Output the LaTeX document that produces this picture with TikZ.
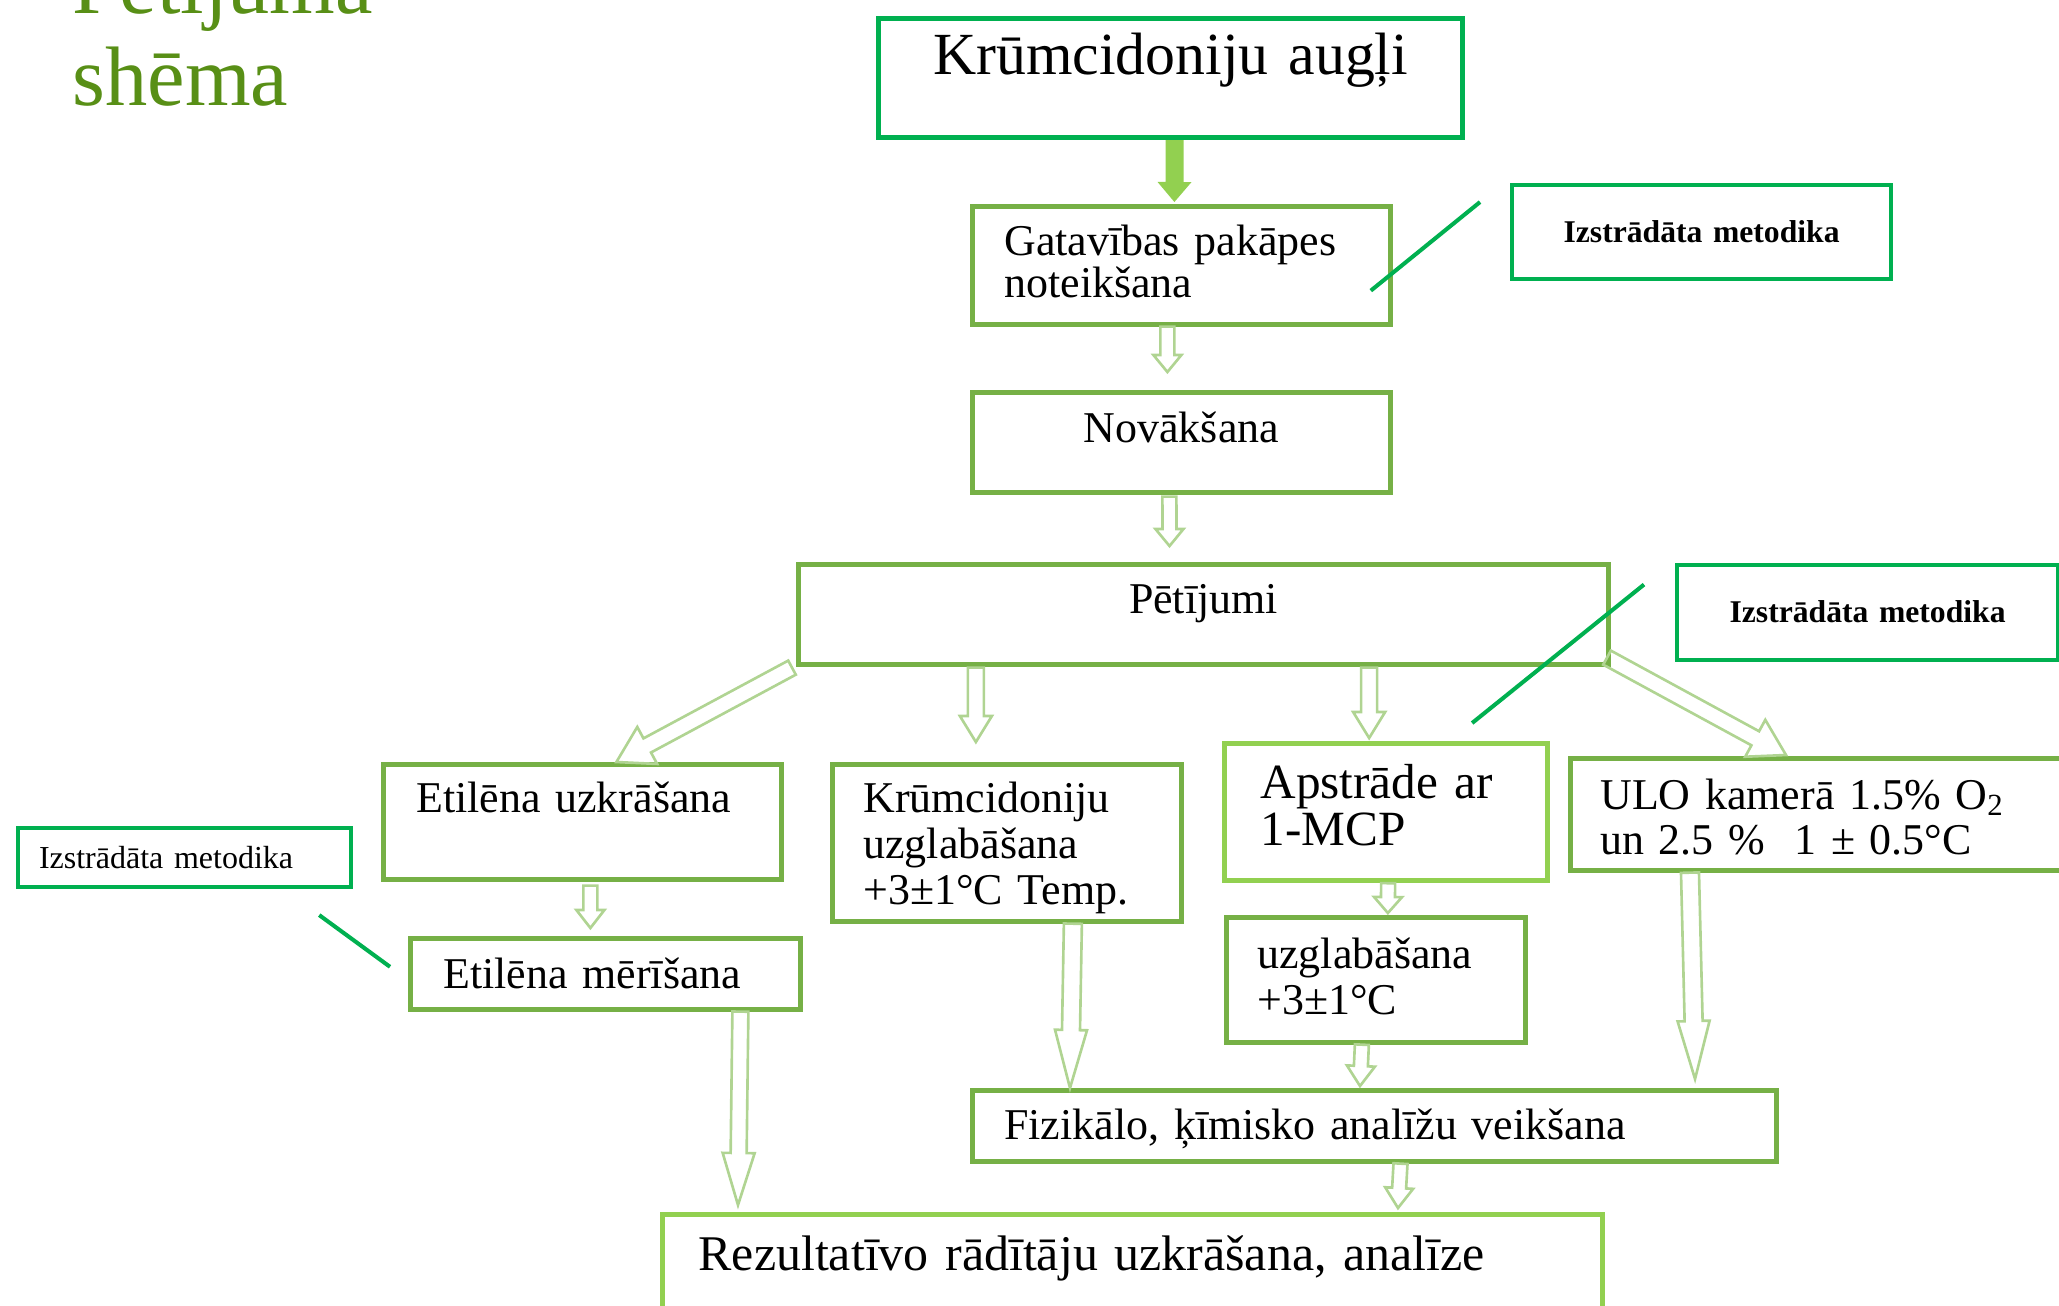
\documentclass[tikz,border=0pt]{standalone}
\usepackage{fontspec}
\setmainfont{Liberation Serif}
\usetikzlibrary{calc}
\definecolor{brightgreen}{RGB}{0,176,80}
\definecolor{boxgreen}{RGB}{118,176,70}
\definecolor{limegreen}{RGB}{146,208,80}
\definecolor{palegreen}{RGB}{176,212,146}
\definecolor{titlegreen}{RGB}{88,143,22}
\tikzstyle{box} = [rectangle, draw=boxgreen, line width=1.3pt, anchor=north west, inner ysep=0pt, align=left, font=\fontsize{12.5}{13.1}\selectfont]
\tikzstyle{topbox} = [box, draw=brightgreen, line width=1.45pt, align=center, inner xsep=0pt, font=\fontsize{17}{20}\selectfont]
\tikzstyle{limebox} = [box, draw=limegreen, line width=1.45pt, font=\fontsize{14}{13.2}\selectfont]
\tikzstyle{notebox} = [box, draw=brightgreen, line width=1.15pt, align=center, inner xsep=0pt, font=\fontsize{9}{11}\selectfont\bfseries]
\tikzstyle{hollow} = [draw=palegreen, line width=0.75pt, line join=miter]
\tikzstyle{solid_arrow} = [fill=limegreen]
\tikzstyle{note_line} = [draw=brightgreen, line width=1.15pt]
% block arrow: [style]{from}{to}{half shaft}{half head}{head length}
\newcommand{\blockarrow}[6][hollow]{%
  \coordinate (bs) at #2;
  \coordinate (be) at #3;
  \coordinate (bn) at ($(be)!#6*0.01cm!(bs)$);
  \path[#1] ($(bs)!#4*0.01cm!90:(be)$) -- ($(bn)!#4*0.01cm!90:(be)$) -- ($(bn)!#5*0.01cm!90:(be)$) -- (be)
    -- ($(bn)!#5*0.01cm!-90:(be)$) -- ($(bn)!#4*0.01cm!-90:(be)$) -- ($(bs)!#4*0.01cm!-90:(be)$) -- cycle;
}

\begin{document}
\begin{tikzpicture}[x=0.01cm, y=-0.01cm]
        \useasboundingbox (0,0) rectangle (2059,1305);
        \node (title) [anchor=base west, inner sep=0pt, text width=6cm, align=left, text=titlegreen, font=\fontsize{24}{26.2}\selectfont] at (72,13) {Pētījuma\\shēma};

        \node (krum) [topbox, text width=5.84cm, text height=0.56cm, text depth=0.63cm] at (876,16) {Krūmcidoniju augļi};
        \node (gat) [box, inner xsep=0.32cm, text width=3.54cm, text height=0.49cm, text depth=0.69cm, font=\fontsize{12.5}{12}\selectfont] at (970,204) {Gatavības pakāpes\\noteikšana};
        \node (nov) [box, align=center, inner xsep=0pt, text width=4.18cm, text height=0.5cm, text depth=0.5cm] at (970,390) {Novākšana};
        \node (pet) [box, align=center, inner xsep=0pt, text width=8.1cm, text height=0.49cm, text depth=0.51cm] at (796,562) {Pētījumi};
        \node (etu) [box, inner xsep=0.33cm, text width=3.32cm, text height=0.48cm, text depth=0.67cm] at (381,762) {Etilēna uzkrāšana};
        \node (kus) [box, inner xsep=0.31cm, text width=2.87cm, text height=0.48cm, text depth=1.09cm] at (830,762) {Krūmcidoniju\\uzglabāšana\\+3±1°C Temp.};
        \node (aps) [limebox, inner xsep=0.36cm, text width=2.51cm, text height=0.55cm, text depth=0.82cm] at (1222,741) {Apstrāde ar\\1-MCP};
        \node (ulo) [box, inner xsep=0.30cm, text width=4.52cm, text height=0.51cm, text depth=0.61cm, font=\fontsize{12.5}{12.8}\selectfont] at (1568,756) {ULO kamerā 1.5\% O\textsubscript{2}\\un 2.5 \%\ \ 1 ± 0.5°C};
        \node (etm) [box, inner xsep=0.33cm, text width=3.24cm, text height=0.5cm, text depth=0.21cm] at (408,936) {Etilēna mērīšana};
        \node (uzg) [box, inner xsep=0.31cm, text width=2.37cm, text height=0.51cm, text depth=0.74cm] at (1224,915) {uzglabāšana\\+3±1°C};
        \node (fiz) [box, inner xsep=0.32cm, text width=7.4cm, text height=0.49cm, text depth=0.22cm] at (970,1088) {Fizikālo, ķīmisko analīžu veikšana};
        \node (rez) [limebox, inner xsep=0.36cm, text width=8.67cm, text height=0.56cm, text depth=0.62cm, font=\fontsize{14.2}{14}\selectfont] at (660,1212) {Rezultatīvo rādītāju uzkrāšana, analīze};

        \node (note_top) [notebox, text width=3.79cm, text height=0.57cm, text depth=0.37cm] at (1510,183) {Izstrādāta metodika};
        \node (note_right) [notebox, text width=3.81cm, text height=0.57cm, text depth=0.38cm] at (1675,563) {Izstrādāta metodika};
        \node (note_left) [notebox, font=\fontsize{9.1}{11}\selectfont, align=left, inner xsep=0.21cm, text width=2.91cm, text height=0.4cm, text depth=0.19cm] at (16,826) {Izstrādāta metodika};

        \draw[note_line] ($(gat.south east)+(-22,-36)$) -- ($(note_top.west)+(-30,-30)$);
        \draw[note_line] ($(note_right.west)+(-31,-28)$) -- ($(aps.north)+(86,-18)$);
        \draw[note_line] ($(note_left.south east)+(-34,26)$) -- ($(etm.west)+(-18,-7)$);

        \blockarrow[solid_arrow]{($(krum.south)+(4,0)$)}{($(gat.north)+(-7,-2)$)}{9}{17}{20}
        \blockarrow{($(gat.south)+(-14,0)$)}{($(nov.north)+(-14,-18)$)}{7}{14}{17}
        \blockarrow{($(nov.south)+(-12,2)$)}{($(pet.north)+(-34,-16)$)}{7}{14}{17}
        \blockarrow{($(pet.south west)+(-4,1)$)}{($(etu.north)+(34,0)$)}{8}{21}{35}
        \blockarrow{($(pet.south -| kus.north)+(-31,1)$)}{($(kus.north)+(-31,-20)$)}{8}{16}{26}
        \blockarrow{($(pet.south -| aps.north)+(-17,1)$)}{($(aps.north)+(-17,-3)$)}{8}{16}{26}
        \blockarrow{($(pet.south east)+(-4,-9)$)}{($(ulo.north west)+(218,-1)$)}{8}{21}{35}
        \blockarrow{($(etu.south)+(8,4)$)}{($(etm.north)+(-15,-8)$)}{7}{14}{18}
        \blockarrow{($(aps.south)+(2,0)$)}{($(uzg.north)+(12,-2)$)}{7}{14}{16}
        \blockarrow{($(etm.south)+(135,0)$)}{($(rez.north west)+(78,-7)$)}{8}{16}{52}
        \blockarrow{($(kus.south)+(66,0)$)}{($(fiz.north west)+(100,0)$)}{9}{16}{58}
        \blockarrow{($(uzg.south)+(-14,0)$)}{($(fiz.north west)+(390,-2)$)}{7}{14}{20}
        \blockarrow{($(ulo.south west)+(122,0)$)}{($(fiz.north east)+(-84,-9)$)}{9}{16}{58}
        \blockarrow{($(fiz.south)+(26,0)$)}{($(rez.north west)+(738,-4)$)}{7}{14}{20}

    \end{tikzpicture}
\end{document}
